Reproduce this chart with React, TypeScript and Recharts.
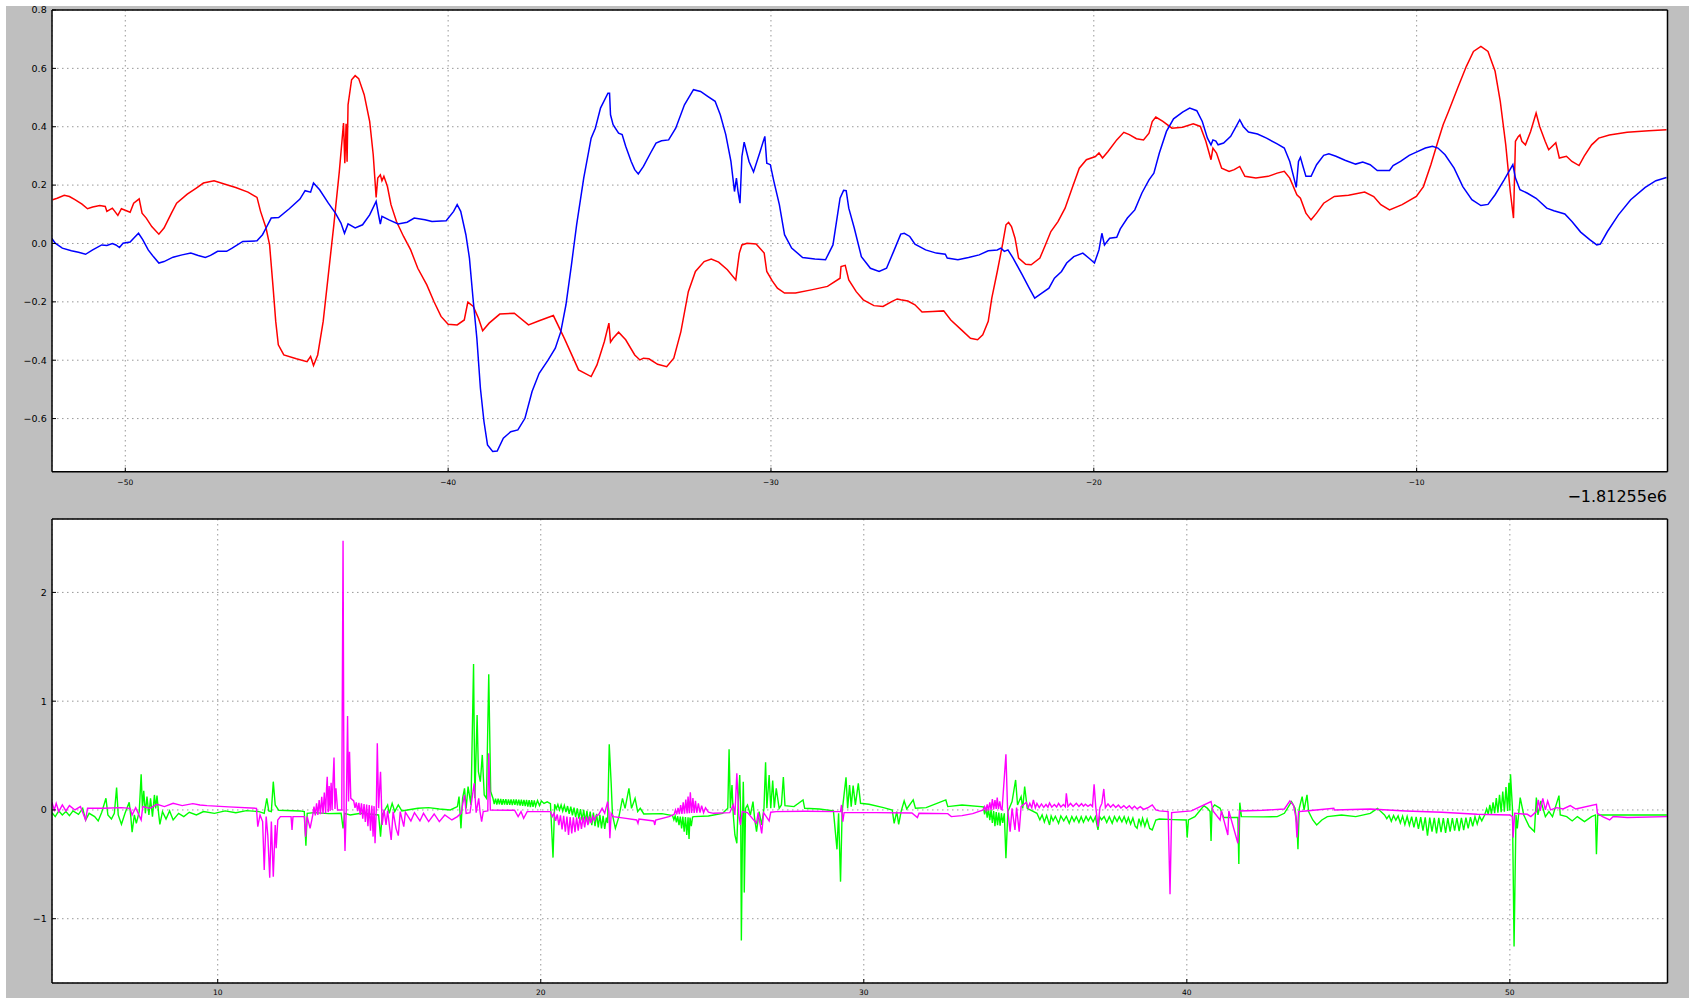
import React from 'react';
import { LineChart, Line, XAxis, YAxis, CartesianGrid } from 'recharts';

type P = [number, number];

// ---- tick labels / axis values ----
const topXTicks = [-50, -40, -30, -20, -10];
const topYTicks = [-0.6, -0.4, -0.2, 0, 0.2, 0.4, 0.6, 0.8];
const topXDomain = [-52.27, -2.23];
const topYDomain = [-0.782, 0.8];
const botXTicks = [10, 20, 30, 40, 50];
const botYTicks = [-1, 0, 1, 2];
const botXDomain = [4.87, 54.88];
const botYDomain = [-1.591, 2.675];
const offsetLabel = '\u22121.81255e6';

// ---- top panel series ----
const redSeries: P[] = [[-52.25,0.150],[-52.11,0.155],[-51.89,0.165],[-51.73,0.161],[-51.56,0.150],[-51.34,0.135],[-51.17,0.119],[-51.01,0.125],[-50.79,0.130],[-50.62,0.127],[-50.57,0.110],[-50.40,0.121],[-50.23,0.096],[-50.12,0.119],[-49.85,0.107],[-49.74,0.138],[-49.57,0.153],[-49.48,0.104],[-49.35,0.087],[-49.18,0.058],[-48.96,0.032],[-48.80,0.053],[-48.57,0.104],[-48.41,0.138],[-48.08,0.169],[-47.80,0.190],[-47.58,0.207],[-47.25,0.215],[-46.91,0.203],[-46.58,0.192],[-46.20,0.176],[-45.92,0.158],[-45.81,0.110],[-45.64,0.053],[-45.53,-0.005],[-45.42,-0.153],[-45.34,-0.267],[-45.26,-0.347],[-45.09,-0.382],[-44.70,-0.395],[-44.37,-0.405],[-44.26,-0.387],[-44.17,-0.418],[-44.04,-0.382],[-43.87,-0.267],[-43.71,-0.107],[-43.54,0.064],[-43.37,0.247],[-43.24,0.413],[-43.20,0.275],[-43.16,0.410],[-43.13,0.280],[-43.10,0.475],[-42.99,0.561],[-42.88,0.575],[-42.77,0.565],[-42.60,0.510],[-42.43,0.418],[-42.32,0.304],[-42.23,0.158],[-42.18,0.224],[-42.10,0.235],[-42.05,0.215],[-41.99,0.230],[-41.88,0.195],[-41.77,0.133],[-41.60,0.075],[-41.38,0.024],[-41.16,-0.022],[-40.94,-0.085],[-40.66,-0.142],[-40.44,-0.199],[-40.22,-0.250],[-40.00,-0.277],[-39.72,-0.279],[-39.50,-0.262],[-39.39,-0.201],[-39.22,-0.216],[-39.06,-0.256],[-38.93,-0.299],[-38.73,-0.273],[-38.40,-0.242],[-37.95,-0.239],[-37.51,-0.279],[-37.18,-0.265],[-36.74,-0.247],[-36.40,-0.325],[-35.96,-0.433],[-35.57,-0.456],[-35.39,-0.416],[-35.16,-0.336],[-35.02,-0.273],[-34.97,-0.338],[-34.89,-0.325],[-34.72,-0.304],[-34.50,-0.330],[-34.22,-0.382],[-34.06,-0.399],[-33.95,-0.393],[-33.78,-0.395],[-33.51,-0.414],[-33.23,-0.422],[-33.01,-0.393],[-32.79,-0.302],[-32.56,-0.165],[-32.34,-0.096],[-32.07,-0.062],[-31.85,-0.053],[-31.62,-0.064],[-31.35,-0.090],[-31.09,-0.125],[-30.98,-0.033],[-30.90,-0.005],[-30.74,0.001],[-30.46,-0.002],[-30.21,-0.033],[-30.13,-0.096],[-29.96,-0.128],[-29.80,-0.153],[-29.58,-0.170],[-29.24,-0.170],[-28.75,-0.159],[-28.25,-0.147],[-27.86,-0.119],[-27.83,-0.079],[-27.70,-0.075],[-27.59,-0.125],[-27.36,-0.165],[-27.14,-0.193],[-26.81,-0.213],[-26.53,-0.216],[-26.26,-0.199],[-26.09,-0.190],[-25.98,-0.193],[-25.76,-0.197],[-25.54,-0.210],[-25.32,-0.235],[-24.99,-0.233],[-24.65,-0.231],[-24.43,-0.262],[-24.10,-0.296],[-23.82,-0.325],[-23.60,-0.330],[-23.44,-0.313],[-23.27,-0.267],[-23.16,-0.187],[-22.99,-0.096],[-22.83,-0.005],[-22.72,0.064],[-22.64,0.072],[-22.55,0.058],[-22.44,0.018],[-22.33,-0.050],[-22.11,-0.071],[-21.94,-0.073],[-21.67,-0.050],[-21.50,-0.005],[-21.33,0.041],[-21.11,0.075],[-20.89,0.121],[-20.67,0.190],[-20.45,0.258],[-20.23,0.287],[-19.95,0.298],[-19.84,0.310],[-19.73,0.293],[-19.56,0.315],[-19.29,0.355],[-19.07,0.381],[-18.90,0.373],[-18.68,0.359],[-18.46,0.355],[-18.29,0.378],[-18.19,0.418],[-18.08,0.433],[-17.86,0.418],[-17.58,0.395],[-17.25,0.398],[-16.92,0.410],[-16.70,0.401],[-16.53,0.350],[-16.37,0.287],[-16.31,0.327],[-16.20,0.310],[-16.04,0.258],[-15.81,0.247],[-15.65,0.253],[-15.48,0.264],[-15.32,0.230],[-14.98,0.224],[-14.60,0.230],[-14.32,0.241],[-14.10,0.247],[-13.93,0.224],[-13.71,0.167],[-13.60,0.155],[-13.43,0.104],[-13.27,0.081],[-13.10,0.104],[-12.88,0.138],[-12.55,0.161],[-12.11,0.165],[-11.61,0.176],[-11.33,0.161],[-11.11,0.133],[-10.84,0.115],[-10.45,0.133],[-10.01,0.161],[-9.79,0.195],[-9.56,0.270],[-9.34,0.350],[-9.18,0.407],[-9.01,0.453],[-8.73,0.533],[-8.46,0.607],[-8.24,0.658],[-8.01,0.675],[-7.79,0.658],[-7.57,0.590],[-7.41,0.487],[-7.24,0.338],[-7.10,0.178],[-7.00,0.087],[-6.94,0.350],[-6.85,0.367],[-6.80,0.372],[-6.74,0.350],[-6.63,0.338],[-6.47,0.384],[-6.30,0.447],[-6.19,0.401],[-6.02,0.350],[-5.91,0.321],[-5.69,0.345],[-5.58,0.293],[-5.36,0.299],[-5.19,0.281],[-4.97,0.267],[-4.81,0.299],[-4.58,0.338],[-4.36,0.361],[-4.03,0.372],[-3.48,0.381],[-2.81,0.386],[-2.26,0.390]];

const blueSeries: P[] = [[-52.28,0.018],[-52.17,0.001],[-51.95,-0.016],[-51.67,-0.025],[-51.45,-0.030],[-51.23,-0.037],[-51.01,-0.022],[-50.73,-0.005],[-50.57,-0.007],[-50.40,0.000],[-50.29,-0.005],[-50.18,-0.014],[-50.07,0.001],[-49.85,0.005],[-49.74,0.018],[-49.59,0.035],[-49.46,0.013],[-49.29,-0.022],[-49.13,-0.045],[-48.96,-0.067],[-48.80,-0.062],[-48.52,-0.047],[-48.24,-0.039],[-47.97,-0.033],[-47.74,-0.041],[-47.52,-0.048],[-47.36,-0.041],[-47.14,-0.027],[-46.86,-0.027],[-46.69,-0.016],[-46.36,0.007],[-45.92,0.009],[-45.75,0.030],[-45.64,0.053],[-45.48,0.087],[-45.25,0.089],[-44.92,0.119],[-44.59,0.152],[-44.43,0.181],[-44.26,0.176],[-44.17,0.207],[-43.98,0.184],[-43.71,0.138],[-43.49,0.104],[-43.32,0.070],[-43.21,0.035],[-43.10,0.067],[-42.88,0.053],[-42.65,0.064],[-42.43,0.098],[-42.23,0.144],[-42.16,0.101],[-42.10,0.066],[-42.05,0.093],[-41.83,0.081],[-41.55,0.067],[-41.27,0.073],[-41.05,0.087],[-40.72,0.081],[-40.50,0.075],[-40.06,0.078],[-39.83,0.110],[-39.72,0.133],[-39.61,0.110],[-39.45,0.030],[-39.34,-0.050],[-39.23,-0.187],[-39.11,-0.325],[-39.00,-0.496],[-38.89,-0.610],[-38.78,-0.690],[-38.62,-0.713],[-38.48,-0.711],[-38.29,-0.667],[-38.06,-0.645],[-37.84,-0.639],[-37.62,-0.599],[-37.40,-0.507],[-37.18,-0.445],[-36.90,-0.399],[-36.68,-0.359],[-36.51,-0.302],[-36.35,-0.210],[-36.18,-0.073],[-36.02,0.064],[-35.80,0.224],[-35.57,0.361],[-35.44,0.395],[-35.28,0.464],[-35.05,0.515],[-35.00,0.515],[-34.97,0.441],[-34.89,0.407],[-34.72,0.378],[-34.61,0.373],[-34.50,0.333],[-34.33,0.281],[-34.22,0.253],[-34.11,0.238],[-33.95,0.264],[-33.73,0.310],[-33.56,0.344],[-33.39,0.352],[-33.17,0.355],[-32.95,0.395],[-32.68,0.475],[-32.40,0.527],[-32.18,0.521],[-31.96,0.504],[-31.73,0.487],[-31.57,0.441],[-31.40,0.373],[-31.24,0.281],[-31.13,0.178],[-31.07,0.224],[-31.02,0.178],[-30.96,0.138],[-30.90,0.298],[-30.83,0.347],[-30.68,0.281],[-30.54,0.245],[-30.35,0.310],[-30.19,0.367],[-30.13,0.275],[-30.02,0.270],[-29.91,0.213],[-29.74,0.133],[-29.58,0.030],[-29.36,-0.016],[-29.02,-0.048],[-28.64,-0.053],[-28.31,-0.056],[-28.08,-0.005],[-27.86,0.155],[-27.75,0.182],[-27.67,0.181],[-27.59,0.121],[-27.42,0.053],[-27.20,-0.045],[-26.92,-0.085],[-26.65,-0.096],[-26.42,-0.085],[-26.20,-0.027],[-25.98,0.032],[-25.87,0.035],[-25.70,0.024],[-25.54,-0.002],[-25.21,-0.022],[-24.88,-0.033],[-24.60,-0.037],[-24.54,-0.050],[-24.21,-0.056],[-23.88,-0.048],[-23.55,-0.039],[-23.27,-0.025],[-22.99,-0.022],[-22.88,-0.016],[-22.77,-0.027],[-22.66,-0.022],[-22.50,-0.050],[-22.22,-0.107],[-22.00,-0.153],[-21.83,-0.187],[-21.61,-0.170],[-21.39,-0.153],[-21.22,-0.119],[-21.00,-0.096],[-20.84,-0.067],[-20.62,-0.045],[-20.34,-0.033],[-20.12,-0.053],[-19.98,-0.067],[-19.84,-0.022],[-19.75,0.035],[-19.67,-0.005],[-19.51,0.018],[-19.29,0.021],[-19.18,0.050],[-18.96,0.087],[-18.73,0.115],[-18.51,0.173],[-18.29,0.218],[-18.14,0.241],[-17.97,0.310],[-17.75,0.384],[-17.53,0.427],[-17.25,0.450],[-17.03,0.464],[-16.81,0.455],[-16.64,0.418],[-16.48,0.361],[-16.37,0.338],[-16.31,0.355],[-16.22,0.351],[-16.15,0.338],[-15.98,0.344],[-15.76,0.367],[-15.59,0.401],[-15.48,0.424],[-15.37,0.401],[-15.21,0.382],[-14.93,0.375],[-14.65,0.361],[-14.32,0.341],[-14.10,0.327],[-13.93,0.281],[-13.80,0.224],[-13.73,0.192],[-13.66,0.281],[-13.60,0.295],[-13.52,0.264],[-13.43,0.230],[-13.27,0.230],[-13.10,0.270],[-12.88,0.302],[-12.72,0.307],[-12.50,0.299],[-12.22,0.285],[-11.89,0.272],[-11.67,0.279],[-11.44,0.270],[-11.22,0.250],[-10.84,0.250],[-10.73,0.267],[-10.50,0.281],[-10.23,0.302],[-10.01,0.313],[-9.73,0.327],[-9.51,0.333],[-9.34,0.327],[-9.12,0.304],[-8.84,0.258],[-8.57,0.195],[-8.29,0.150],[-8.01,0.130],[-7.79,0.134],[-7.57,0.167],[-7.29,0.218],[-7.02,0.270],[-6.94,0.224],[-6.80,0.184],[-6.58,0.173],[-6.30,0.155],[-5.97,0.121],[-5.75,0.112],[-5.41,0.101],[-5.19,0.075],[-4.92,0.039],[-4.64,0.013],[-4.42,-0.005],[-4.31,-0.002],[-4.09,0.041],[-3.75,0.098],[-3.37,0.150],[-2.92,0.192],[-2.59,0.215],[-2.26,0.226]];

// ---- bottom panel series ----
const greenSeries: P[] = [[4.87,-0.025],[4.97,-0.061],[5.08,-0.009],[5.19,-0.046],[5.30,-0.015],[5.41,-0.052],[5.52,-0.009],[5.69,-0.040],[5.82,0.015],[5.91,-0.092],[6.02,-0.031],[6.19,-0.061],[6.30,-0.101],[6.41,-0.021],[6.54,0.107],[6.60,-0.046],[6.71,-0.083],[6.80,-0.031],[6.87,0.205],[6.92,-0.046],[7.02,-0.132],[7.13,-0.031],[7.26,0.070],[7.31,-0.061],[7.35,-0.205],[7.42,-0.046],[7.48,-0.123],[7.57,-0.015],[7.63,0.328],[7.67,0.015],[7.71,0.175],[7.76,-0.031],[7.81,0.123],[7.87,-0.046],[7.92,0.107],[7.98,-0.061],[8.04,0.138],[8.08,0.015],[8.12,0.132],[8.17,-0.031],[8.21,-0.132],[8.29,-0.015],[8.40,-0.083],[8.51,-0.009],[8.62,-0.092],[8.79,-0.031],[8.95,-0.061],[9.12,-0.021],[9.34,-0.046],[9.56,-0.015],[9.90,-0.031],[10.23,-0.009],[10.56,-0.025],[10.89,-0.006],[11.28,-0.015],[11.44,-0.031],[11.52,0.107],[11.58,-0.009],[11.66,-0.015],[11.72,0.260],[11.78,0.046],[11.89,-0.003],[12.55,-0.009],[12.68,-0.015],[12.73,-0.328],[12.77,-0.031],[12.99,-0.025],[13.43,-0.034],[13.82,-0.031],[13.88,-0.169],[13.93,-0.031],[14.10,-0.046],[14.43,-0.031],[14.76,-0.040],[14.98,-0.046],[15.04,-0.245],[15.09,-0.046],[15.26,0.046],[15.31,-0.031],[15.40,0.061],[15.48,-0.015],[15.59,0.046],[15.70,-0.009],[15.87,0.000],[16.20,0.015],[16.53,0.021],[16.86,0.009],[17.20,0.000],[17.42,0.031],[17.47,0.123],[17.53,-0.169],[17.58,0.107],[17.64,0.199],[17.69,0.015],[17.75,0.215],[17.84,0.046],[17.92,1.342],[17.96,0.107],[18.03,0.873],[18.07,0.352],[18.13,0.260],[18.19,0.506],[18.25,0.138],[18.32,0.107],[18.39,1.247],[18.45,0.169],
[18.52,0.107],[18.56,0.055],[18.60,0.104],[18.64,0.050],[18.68,0.103],[18.72,0.052],[18.76,0.101],[18.80,0.048],[18.84,0.100],[18.88,0.050],[18.92,0.099],[18.96,0.046],[19.00,0.098],[19.04,0.048],[19.08,0.097],[19.12,0.044],[19.16,0.097],[19.20,0.046],[19.24,0.096],[19.28,0.042],[19.32,0.095],[19.36,0.040],[19.40,0.094],[19.44,0.038],[19.48,0.093],[19.52,0.036],[19.56,0.092],[19.60,0.030],[19.64,0.091],[19.68,0.025],[19.72,0.090],[19.76,0.028],[19.80,0.088],[19.84,0.035],[19.90,0.086],[19.96,0.040],[20.02,0.082],[20.10,0.060],[20.20,0.075],[20.30,0.058],[20.38,-0.438],
[20.43,0.052],[20.48,0.010],[20.53,0.050],[20.58,0.000],[20.63,0.046],[20.68,-0.010],[20.73,0.042],[20.78,-0.020],[20.83,0.036],[20.88,-0.035],[20.93,0.030],[20.98,-0.050],[21.03,0.022],[21.08,-0.065],[21.13,0.015],[21.18,-0.080],[21.23,0.008],[21.28,-0.095],[21.33,0.000],[21.38,-0.110],[21.43,-0.008],[21.48,-0.125],[21.53,-0.015],[21.58,-0.140],[21.63,-0.025],[21.68,-0.150],[21.73,-0.035],[21.78,-0.160],[21.83,-0.045],[21.88,-0.170],[21.93,-0.055],[21.98,-0.175],[22.03,-0.070],[22.07,-0.120],
[22.12,0.604],[22.18,0.245],[22.22,-0.046],[22.31,-0.169],[22.42,-0.061],[22.53,0.107],[22.61,0.015],[22.73,0.199],[22.81,0.015],[22.92,0.107],[23.00,-0.015],[23.08,0.015],[23.19,-0.037],[23.75,-0.034],
[24.08,-0.052],[24.12,-0.090],[24.16,-0.055],[24.20,-0.115],[24.24,-0.058],[24.28,-0.140],[24.32,-0.060],[24.36,-0.170],[24.40,-0.062],[24.44,-0.200],[24.48,-0.065],[24.52,-0.230],[24.56,-0.068],[24.59,-0.267],[24.62,-0.070],[24.66,-0.150],[24.70,-0.065],[24.74,-0.061],
[25.19,-0.055],[25.63,-0.031],[25.79,0.015],[25.83,0.558],[25.87,0.015],[25.92,0.230],[25.96,-0.046],[26.01,-0.230],[26.07,-0.306],[26.11,0.046],[26.16,0.322],[26.19,-0.046],[26.21,-1.201],[26.25,-0.046],[26.27,0.260],[26.29,-0.046],[26.30,-0.760],[26.34,0.015],[26.40,0.046],[26.49,-0.046],[26.57,0.077],[26.62,-0.077],[26.68,-0.199],[26.76,-0.015],[26.84,-0.138],[26.91,0.015],[26.96,0.438],[27.00,0.015],[27.07,0.322],[27.12,0.015],[27.18,0.270],[27.23,0.021],[27.29,0.199],[27.38,0.015],[27.45,0.046],[27.51,0.303],[27.56,0.040],[27.84,0.031],[28.12,0.092],[28.17,0.015],[28.62,0.009],[29.06,-0.009],[29.17,-0.362],[29.22,-0.031],[29.28,-0.659],[29.33,-0.015],[29.45,0.300],[29.50,0.015],[29.56,0.230],[29.61,0.031],[29.67,0.224],[29.74,0.046],[29.83,0.245],[29.90,0.061],[30.16,0.052],[30.61,0.021],[30.88,0.000],[30.94,-0.123],[31.02,-0.015],[31.08,-0.132],[31.16,-0.009],[31.25,0.083],[31.33,0.009],[31.53,0.092],[31.60,0.015],[31.93,0.021],[32.54,0.092],[32.60,0.031],[33.04,0.046],
[33.70,0.028],[33.74,-0.040],[33.78,0.020],[33.82,-0.070],[33.86,0.010],[33.90,-0.095],[33.94,0.000],[33.98,-0.120],[34.02,-0.010],[34.06,-0.150],[34.10,-0.020],[34.14,-0.140],[34.18,-0.025],[34.22,-0.145],[34.26,-0.030],[34.30,-0.120],[34.35,-0.031],
[34.40,-0.444],[34.46,-0.015],[34.59,0.077],[34.70,0.276],[34.76,0.046],[34.87,0.123],[34.92,0.015],[34.98,0.215],[35.06,0.015],
[35.36,-0.031],[35.45,-0.090],[35.52,-0.045],[35.59,-0.110],[35.66,-0.050],[35.75,-0.138],[35.80,-0.055],[35.86,-0.100],[35.93,-0.058],[36.03,-0.123],[36.10,-0.055],[36.19,-0.100],[36.27,-0.058],[36.36,-0.123],[36.44,-0.060],[36.51,-0.105],[36.58,-0.061],[36.66,-0.115],[36.73,-0.062],[36.80,-0.113],[36.88,-0.060],[36.95,-0.100],[37.02,-0.061],[37.10,-0.110],[37.17,-0.063],[37.25,-0.184],[37.30,-0.062],[37.36,-0.090],[37.44,-0.060],[37.52,-0.115],[37.60,-0.062],[37.69,-0.123],[37.76,-0.060],[37.84,-0.105],[37.91,-0.061],[37.99,-0.110],[38.06,-0.062],[38.13,-0.120],[38.19,-0.070],[38.26,-0.130],[38.33,-0.075],[38.40,-0.150],[38.46,-0.169],[38.52,-0.080],[38.58,-0.140],[38.63,-0.077],[38.70,-0.150],[38.77,-0.085],[38.85,-0.170],[38.93,-0.184],
[39.04,-0.092],[39.15,-0.083],[39.59,-0.089],[39.98,-0.092],[40.01,-0.254],[40.05,-0.092],[40.25,-0.061],[40.42,0.000],[40.53,0.040],[40.64,0.015],[40.72,-0.015],[40.75,-0.285],[40.78,0.015],[40.86,0.046],[41.03,0.015],[41.14,-0.070],[41.58,-0.070],[41.61,-0.496],[41.64,0.067],[41.69,-0.061],[42.36,-0.064],[42.80,-0.061],[43.02,-0.031],[43.24,0.077],[43.35,0.015],[43.41,-0.138],[43.44,-0.362],[43.48,0.015],[43.57,0.123],[43.63,0.000],[43.72,0.138],[43.77,-0.015],[43.90,-0.092],[44.02,-0.138],[44.18,-0.092],[44.35,-0.061],[44.79,-0.046],[45.23,-0.061],[45.68,-0.031],[45.90,0.015],
[46.12,-0.046],[46.19,-0.080],[46.26,-0.050],[46.33,-0.105],[46.40,-0.052],[46.47,-0.095],[46.54,-0.055],[46.61,-0.120],[46.68,-0.057],[46.75,-0.135],[46.82,-0.060],[46.89,-0.140],[46.96,-0.062],[47.03,-0.160],[47.10,-0.064],[47.17,-0.175],[47.24,-0.066],[47.31,-0.190],[47.38,-0.068],[47.45,-0.236],[47.52,-0.070],[47.59,-0.200],[47.66,-0.072],[47.73,-0.215],[47.80,-0.073],[47.87,-0.205],[47.94,-0.074],[48.01,-0.210],[48.08,-0.075],[48.15,-0.200],[48.22,-0.075],[48.29,-0.190],[48.36,-0.074],[48.43,-0.195],[48.50,-0.072],[48.57,-0.185],[48.64,-0.070],[48.71,-0.170],[48.78,-0.066],[48.85,-0.150],[48.92,-0.062],[48.99,-0.130],[49.06,-0.058],[49.13,-0.100],[49.22,-0.046],
[49.28,0.010],[49.33,-0.040],[49.38,0.046],[49.43,-0.035],[49.48,0.070],[49.53,-0.030],[49.58,0.110],[49.63,-0.025],[49.68,0.140],[49.73,-0.020],[49.78,0.170],[49.83,-0.015],[49.88,0.210],[49.93,-0.010],[49.97,0.250],[50.00,-0.005],[50.02,0.328],[50.08,0.015],
[50.13,-1.256],[50.19,-0.046],[50.23,-0.169],[50.32,0.113],[50.43,-0.046],[50.60,-0.153],[50.76,-0.199],[50.82,0.113],[50.87,-0.046],[50.96,0.083],[51.10,-0.061],[51.21,-0.015],[51.32,-0.061],[51.52,0.132],[51.56,-0.046],[51.76,-0.061],[51.93,-0.101],[52.09,-0.061],[52.31,-0.107],[52.53,-0.061],[52.65,-0.046],[52.68,-0.408],[52.72,-0.046],[53.42,-0.046],[54.86,-0.046]];

const magentaSeries: P[] = [[4.87,0.070],[4.94,0.000],[5.00,0.061],[5.08,-0.015],[5.19,0.046],[5.30,-0.009],[5.41,0.040],[5.58,0.000],[5.75,0.031],[5.91,-0.092],[5.97,0.015],[6.46,0.015],[7.02,0.021],[7.29,0.015],[7.35,-0.046],[7.46,0.021],[7.63,-0.092],[7.68,0.031],[7.90,0.015],[8.12,0.052],[8.35,0.031],[8.62,0.061],[8.90,0.040],[9.23,0.058],[9.45,0.046],[9.67,0.040],[10.34,0.028],[11.20,0.015],[11.24,-0.153],[11.31,-0.046],[11.39,-0.107],[11.44,-0.552],[11.50,-0.061],[11.55,-0.230],[11.61,-0.622],[11.66,-0.107],[11.72,-0.613],[11.78,-0.138],[11.81,-0.352],[11.86,-0.092],[11.94,-0.061],[12.27,-0.061],[12.30,-0.184],[12.33,-0.061],[12.68,-0.061],[12.72,-0.245],[12.77,-0.061],[12.86,-0.169],
[12.94,-0.050],[12.98,0.030],[13.02,-0.050],[13.06,0.060],[13.10,-0.045],[13.14,0.090],[13.18,-0.040],[13.22,0.120],[13.26,-0.035],[13.30,0.160],[13.34,-0.030],[13.37,0.200],[13.39,0.306],[13.42,-0.020],[13.45,0.220],[13.48,-0.010],[13.51,0.250],[13.54,0.000],[13.57,0.270],[13.60,0.481],[13.63,0.010],[13.66,0.200],[13.71,0.000],
[13.84,0.000],[13.88,2.476],[13.91,0.000],[13.94,-0.377],[13.98,0.015],[14.02,0.864],[14.05,0.077],[14.08,0.536],[14.12,0.107],
[14.21,0.083],[14.25,0.020],[14.29,0.070],[14.33,-0.010],[14.37,0.065],[14.41,-0.046],[14.45,0.060],[14.49,-0.080],[14.53,0.055],[14.57,-0.110],[14.61,0.050],[14.65,-0.150],[14.69,0.045],[14.73,-0.190],[14.77,0.040],[14.81,-0.245],[14.84,0.035],[14.87,-0.306],[14.91,0.015],
[14.94,0.613],[14.98,0.015],[15.04,0.352],[15.09,-0.138],[15.15,0.000],[15.21,-0.138],[15.26,-0.009],[15.37,-0.276],[15.43,-0.015],[15.52,-0.169],[15.59,-0.236],[15.65,-0.015],[15.76,-0.153],[15.81,-0.021],[15.98,-0.101],[16.09,-0.025],[16.26,-0.101],[16.37,-0.031],[16.53,-0.107],[16.70,-0.037],[16.86,-0.107],[17.03,-0.046],[17.25,-0.092],[17.42,-0.061],[17.53,-0.031],[17.64,0.138],[17.69,-0.031],[17.81,-0.025],[17.94,0.245],[18.00,-0.025],[18.08,0.107],[18.12,-0.015],[18.17,-0.107],[18.22,-0.015],[18.36,-0.009],[18.39,0.521],[18.44,0.000],[19.19,-0.003],[19.30,-0.061],[19.39,-0.015],[19.47,-0.077],[19.58,-0.015],
[20.30,-0.015],[20.36,-0.060],[20.41,-0.030],[20.46,-0.100],[20.51,-0.040],[20.56,-0.140],[20.61,-0.050],[20.66,-0.180],[20.71,-0.055],[20.76,-0.200],[20.81,-0.060],[20.86,-0.230],[20.91,-0.065],[20.96,-0.215],[21.01,-0.068],[21.06,-0.205],[21.11,-0.068],[21.16,-0.190],[21.21,-0.066],[21.26,-0.175],[21.31,-0.064],[21.36,-0.160],[21.41,-0.062],[21.46,-0.140],[21.51,-0.060],[21.56,-0.120],[21.61,-0.058],[21.66,-0.095],[21.72,-0.050],[21.79,-0.046],
[21.90,0.015],[21.98,-0.031],[22.07,0.077],[22.11,-0.015],[22.14,-0.260],[22.18,-0.031],[22.25,-0.061],[22.64,-0.077],[22.97,-0.092],[23.01,-0.123],[23.04,-0.083],[23.50,-0.101],[23.53,-0.138],[23.56,-0.092],[23.97,-0.061],
[24.13,-0.040],[24.17,0.000],[24.21,-0.040],[24.25,0.020],[24.29,-0.038],[24.33,0.045],[24.37,-0.036],[24.41,0.070],[24.45,-0.034],[24.49,0.095],[24.53,-0.032],[24.56,0.123],[24.60,-0.030],[24.63,0.162],[24.67,-0.028],[24.71,0.110],[24.75,-0.027],[24.79,0.083],[24.83,-0.026],[24.88,0.060],[24.93,-0.025],[24.98,0.040],[25.04,-0.025],[25.10,0.020],[25.19,-0.020],[25.35,-0.031],
[25.85,-0.025],[25.96,0.046],[26.01,-0.046],[26.07,0.337],[26.13,-0.046],[26.18,-0.138],[26.24,-0.015],[26.40,-0.025],[26.68,-0.123],[26.73,-0.025],[26.84,-0.215],[26.90,-0.025],[27.07,-0.101],[27.12,-0.021],[27.29,-0.015],[28.17,-0.012],[29.28,-0.015],[29.31,0.046],[29.35,-0.107],[29.39,-0.025],[30.39,-0.025],[31.49,-0.028],[31.66,-0.070],[31.71,-0.031],[32.60,-0.034],[32.71,-0.061],[33.04,-0.052],[33.37,-0.034],
[33.70,0.000],[33.74,0.030],[33.78,-0.005],[33.82,0.050],[33.86,-0.005],[33.90,0.070],[33.94,0.000],[33.98,0.101],[34.02,0.005],[34.06,0.090],[34.10,0.010],[34.13,0.113],[34.17,0.010],[34.21,0.080],[34.25,0.005],[34.28,0.000],
[34.40,0.512],[34.45,0.015],[34.53,-0.199],[34.59,0.015],[34.68,-0.184],[34.73,0.021],[34.81,-0.199],[34.87,0.031],
[35.03,0.070],[35.09,0.020],[35.14,0.060],[35.20,0.020],[35.25,0.092],[35.31,0.020],[35.36,0.060],[35.43,0.022],[35.50,0.055],[35.57,0.024],[35.64,0.050],[35.70,0.025],[35.75,0.065],[35.82,0.026],[35.90,0.050],[35.97,0.027],[36.03,0.060],[36.10,0.028],[36.18,0.050],[36.24,0.030],[36.27,0.153],[36.32,0.031],[36.40,0.060],[36.48,0.032],[36.58,0.061],[36.66,0.033],[36.74,0.058],[36.80,0.034],[36.86,0.052],[36.94,0.033],[37.02,0.050],[37.08,0.031],[37.13,0.236],[37.18,0.031],[37.25,-0.153],[37.31,0.021],[37.37,0.060],[37.43,0.193],[37.48,0.021],[37.56,0.055],[37.64,0.025],[37.72,0.050],[37.80,0.022],[37.88,0.045],[37.96,0.018],[38.05,0.040],[38.13,0.015],[38.22,0.038],[38.30,0.012],[38.38,0.035],[38.46,0.010],[38.56,0.030],[38.66,0.005],[38.79,0.020],
[38.93,0.046],[39.04,0.000],[39.15,-0.009],[39.42,-0.015],[39.48,-0.775],[39.53,-0.025],[40.14,-0.009],[40.75,0.077],[40.81,-0.009],[41.03,-0.092],[41.07,-0.009],[41.27,-0.230],[41.30,-0.009],[41.58,-0.306],[41.63,-0.009],[42.36,-0.003],[43.02,0.009],[43.19,0.083],[43.30,0.046],[43.37,-0.061],[43.41,-0.254],[43.46,-0.015],[43.68,-0.009],[44.55,0.015],[44.57,0.000],[45.68,0.009],[46.78,-0.009],[47.89,-0.021],[48.99,-0.040],[49.99,-0.046],[50.08,-0.061],[50.10,-0.254],[50.15,-0.031],[50.54,-0.040],[50.65,-0.061],[50.82,-0.015],[50.88,0.092],[50.94,-0.009],[51.02,0.107],[51.10,0.000],[51.17,0.083],[51.26,0.000],[51.45,0.021],[51.65,0.009],[51.87,0.040],[52.04,0.009],[52.68,0.052],[52.71,-0.031],[52.87,-0.061],[53.09,-0.092],[53.20,-0.061],[53.64,-0.070],[54.86,-0.061]];

const toRows = (s: P[]) => s.map(([x, y]) => ({ x, y }));
const uminus = (s: string) => s.replace('-', '\u2212');
const fmtInt = (v: number) => uminus(String(Math.round(v)));
const fmt1 = (v: number) => uminus((Math.abs(v) < 1e-9 ? 0 : v).toFixed(1));

const FONT = '"DejaVu Sans", "Liberation Sans", sans-serif';
const FRAME = { stroke: '#000', strokeWidth: 1.5 };
const TICKLINE = { stroke: '#000', strokeWidth: 1 };

interface PanelProps {
  top: number;
  height: number;
  marginTop: number;
  marginBottom: number;
  xAxisHeight: number;
  xTickMargin: number;
  yTickMargin: number;
  xDomain: number[];
  yDomain: number[];
  xTicks: number[];
  yTicks: number[];
  yFmt: (v: number) => string;
  series: { rows: { x: number; y: number }[]; color: string; width: number; key: string }[];
}

function Panel(p: PanelProps) {
  return (
    <div style={{ position: 'absolute', left: 0, top: p.top }}>
      <LineChart
        width={1689}
        height={p.height}
        margin={{ top: p.marginTop, right: 20.5, left: 12, bottom: p.marginBottom }}
      >
        <CartesianGrid
          xAxisId="b"
          yAxisId="l"
          fill="#ffffff"
          fillOpacity={1}
          stroke="#8c8c8c"
          strokeDasharray="1.5 3.5"
          strokeWidth={0.9}
        />
        <XAxis
          xAxisId="b"
          type="number"
          dataKey="x"
          domain={p.xDomain}
          allowDataOverflow
          ticks={p.xTicks}
          interval={0}
          tickFormatter={fmtInt}
          height={p.xAxisHeight}
          tickSize={-4}
          tickMargin={p.xTickMargin}
          axisLine={FRAME}
          tickLine={TICKLINE}
          tick={{ fontSize: 7.5, fill: '#000', fontFamily: FONT }}
        />
        <XAxis
          xAxisId="t"
          orientation="top"
          type="number"
          dataKey="x"
          domain={p.xDomain}
          allowDataOverflow
          ticks={p.xTicks}
          interval={0}
          height={1}
          tickSize={-4}
          tick={false}
          axisLine={FRAME}
          tickLine={TICKLINE}
        />
        <YAxis
          yAxisId="l"
          type="number"
          domain={p.yDomain}
          allowDataOverflow
          ticks={p.yTicks}
          interval={0}
          tickFormatter={p.yFmt}
          width={40}
          tickSize={-4}
          tickMargin={p.yTickMargin}
          axisLine={FRAME}
          tickLine={TICKLINE}
          tick={{ fontSize: 9.5, fill: '#000', fontFamily: FONT }}
        />
        <YAxis
          yAxisId="r"
          orientation="right"
          type="number"
          domain={p.yDomain}
          allowDataOverflow
          ticks={p.yTicks}
          interval={0}
          width={1}
          tickSize={-4}
          tick={false}
          axisLine={FRAME}
          tickLine={TICKLINE}
        />
        {p.series.map((s) => (
          <Line
            key={s.key}
            xAxisId="b"
            yAxisId="l"
            data={s.rows}
            dataKey="y"
            type="linear"
            stroke={s.color}
            strokeWidth={s.width}
            dot={false}
            activeDot={false}
            isAnimationActive={false}
          />
        ))}
      </LineChart>
    </div>
  );
}

export default function App() {
  return (
    <div
      style={{
        position: 'absolute',
        left: 0,
        top: 0,
        width: 1689,
        height: 998,
        overflow: 'hidden',
        background: '#ffffff',
      }}
    >
      <div
        style={{ position: 'absolute', left: 6, top: 6, width: 1683, height: 992, background: '#bfbfbf' }}
      />
      <Panel
        top={0}
        height={500}
        marginTop={9}
        marginBottom={8.3}
        xAxisHeight={20}
        xTickMargin={12}
        yTickMargin={9.3}
        xDomain={topXDomain}
        yDomain={topYDomain}
        xTicks={topXTicks}
        yTicks={topYTicks}
        yFmt={fmt1}
        series={[
          { key: 'red', rows: toRows(redSeries), color: '#ff0000', width: 1.5 },
          { key: 'blue', rows: toRows(blueSeries), color: '#0000ff', width: 1.5 },
        ]}
      />
      <div
        style={{
          position: 'absolute',
          left: 1467,
          top: 488,
          width: 200,
          textAlign: 'right',
          fontFamily: FONT,
          fontSize: 16,
          lineHeight: '18px',
          color: '#000',
        }}
      >
        {offsetLabel}
      </div>
      <Panel
        top={500}
        height={498}
        marginTop={18}
        marginBottom={0}
        xAxisHeight={15}
        xTickMargin={11}
        yTickMargin={9.3}
        xDomain={botXDomain}
        yDomain={botYDomain}
        xTicks={botXTicks}
        yTicks={botYTicks}
        yFmt={fmtInt}
        series={[
          { key: 'green', rows: toRows(greenSeries), color: '#00ff00', width: 1.4 },
          { key: 'magenta', rows: toRows(magentaSeries), color: '#ff00ff', width: 1.4 },
        ]}
      />
    </div>
  );
}
